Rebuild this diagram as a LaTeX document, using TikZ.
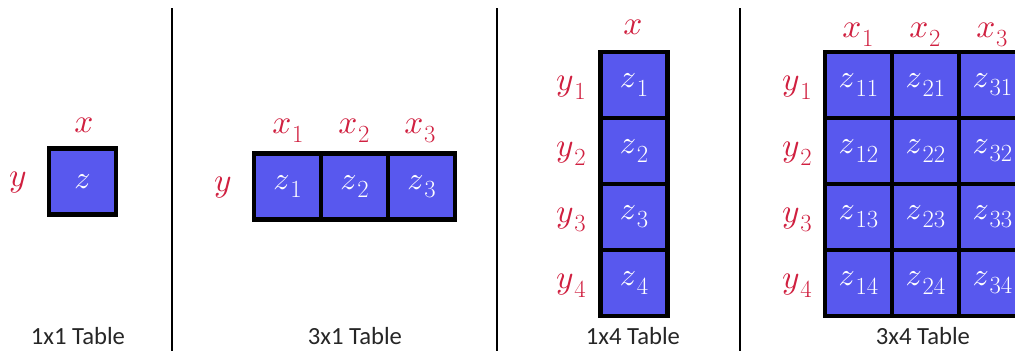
\documentclass[tikz,border=0pt]{standalone}
\usepackage{fontspec}
\DeclareFontFamily{OML}{cmm}{\skewchar\font'177}
\DeclareFontShape{OML}{cmm}{m}{it}{<->cmmi10}{}
\newfontfamily\capfont{Carlito}
\definecolor{cellblue}{RGB}{88,88,238}
\definecolor{labred}{RGB}{208,32,64}
\newcommand{\vr}[2]{$#1$\kern0.5pt\raisebox{-0.6ex}{\fontsize{18.5}{18.5}\selectfont #2}}
\newcommand{\vi}[1]{$#1$}
\begin{document}
\begin{tikzpicture}[x=0.75pt,y=-0.75pt,
  cell/.style={draw=black,line width=3.6pt,fill=cellblue,minimum width=50.25pt,minimum height=49.5pt,inner sep=0pt,text=white,font=\fontsize{24}{24}\selectfont},
  lab/.style={text=labred,inner sep=0pt,font=\fontsize{25}{25}\selectfont},
  captext/.style={inner sep=0pt,text=black!85,font=\capfont\fontsize{18.5}{18.5}\selectfont},
  divider/.style={line width=1.6pt,black}]
\useasboundingbox (0,0) rectangle (1015,351);
\clip (0,0) rectangle (1015,351);
% dividers
\coordinate (d1t) at (172,8); \coordinate (d1b) at (172,351);
\coordinate (d2t) at (497,8); \coordinate (d2b) at (497,351);
\coordinate (d3t) at (740,8); \coordinate (d3b) at (740,351);
\draw[divider] (d1t) -- (d1b);
\draw[divider] (d2t) -- (d2b);
\draw[divider] (d3t) -- (d3b);
% 1x1
\node[cell] (a) at (82.5,181.5) {\vi{z}};
\node[lab] (ax) at (84,125) {\vi{x}};
\node[lab] (ay) at (18,183) {\vi{y}};
\node[captext] (acap) at (78,336) {1x1 Table};
% 3x1
\node[cell] (b1) at (287.5,186.5) {\vr{z}{1}};
\node[cell] (b2) at (354.5,186.5) {\vr{z}{2}};
\node[cell] (b3) at (421.5,186.5) {\vr{z}{3}};
\node[lab] (bx1) at (288,131) {\vr{x}{1}};
\node[lab] (bx2) at (354,131) {\vr{x}{2}};
\node[lab] (bx3) at (420,131) {\vr{x}{3}};
\node[lab] (by) at (223,188) {\vi{y}};
\node[captext] (bcap) at (355,336) {3x1 Table};
% 1x4
\node[cell] (c1) at (634,85) {\vr{z}{1}};
\node[cell] (c2) at (634,151) {\vr{z}{2}};
\node[cell] (c3) at (634,217) {\vr{z}{3}};
\node[cell] (c4) at (634,283) {\vr{z}{4}};
\node[lab] (cx) at (633,27) {\vi{x}};
\node[lab] (cy1) at (571,88) {\vr{y}{1}};
\node[lab] (cy2) at (571,154) {\vr{y}{2}};
\node[lab] (cy3) at (571,220) {\vr{y}{3}};
\node[lab] (cy4) at (571,286) {\vr{y}{4}};
\node[captext] (ccap) at (633,336) {1x4 Table};
% 3x4
\foreach \i/\xx in {1/858.5,2/925.5,3/992.5}{
  \foreach \j/\yy in {1/85,2/151,3/217,4/283}{
    \node[cell] (d\i\j) at (\xx,\yy) {\vr{z}{\i\j}};
  }
}
\node[lab] (dx1) at (858,35) {\vr{x}{1}};
\node[lab] (dx2) at (925,35) {\vr{x}{2}};
\node[lab] (dx3) at (992,35) {\vr{x}{3}};
\node[lab] (dy1) at (797,88) {\vr{y}{1}};
\node[lab] (dy2) at (797,154) {\vr{y}{2}};
\node[lab] (dy3) at (797,220) {\vr{y}{3}};
\node[lab] (dy4) at (797,286) {\vr{y}{4}};
\node[captext] (dcap) at (923,336) {3x4 Table};
\end{tikzpicture}
\end{document}
